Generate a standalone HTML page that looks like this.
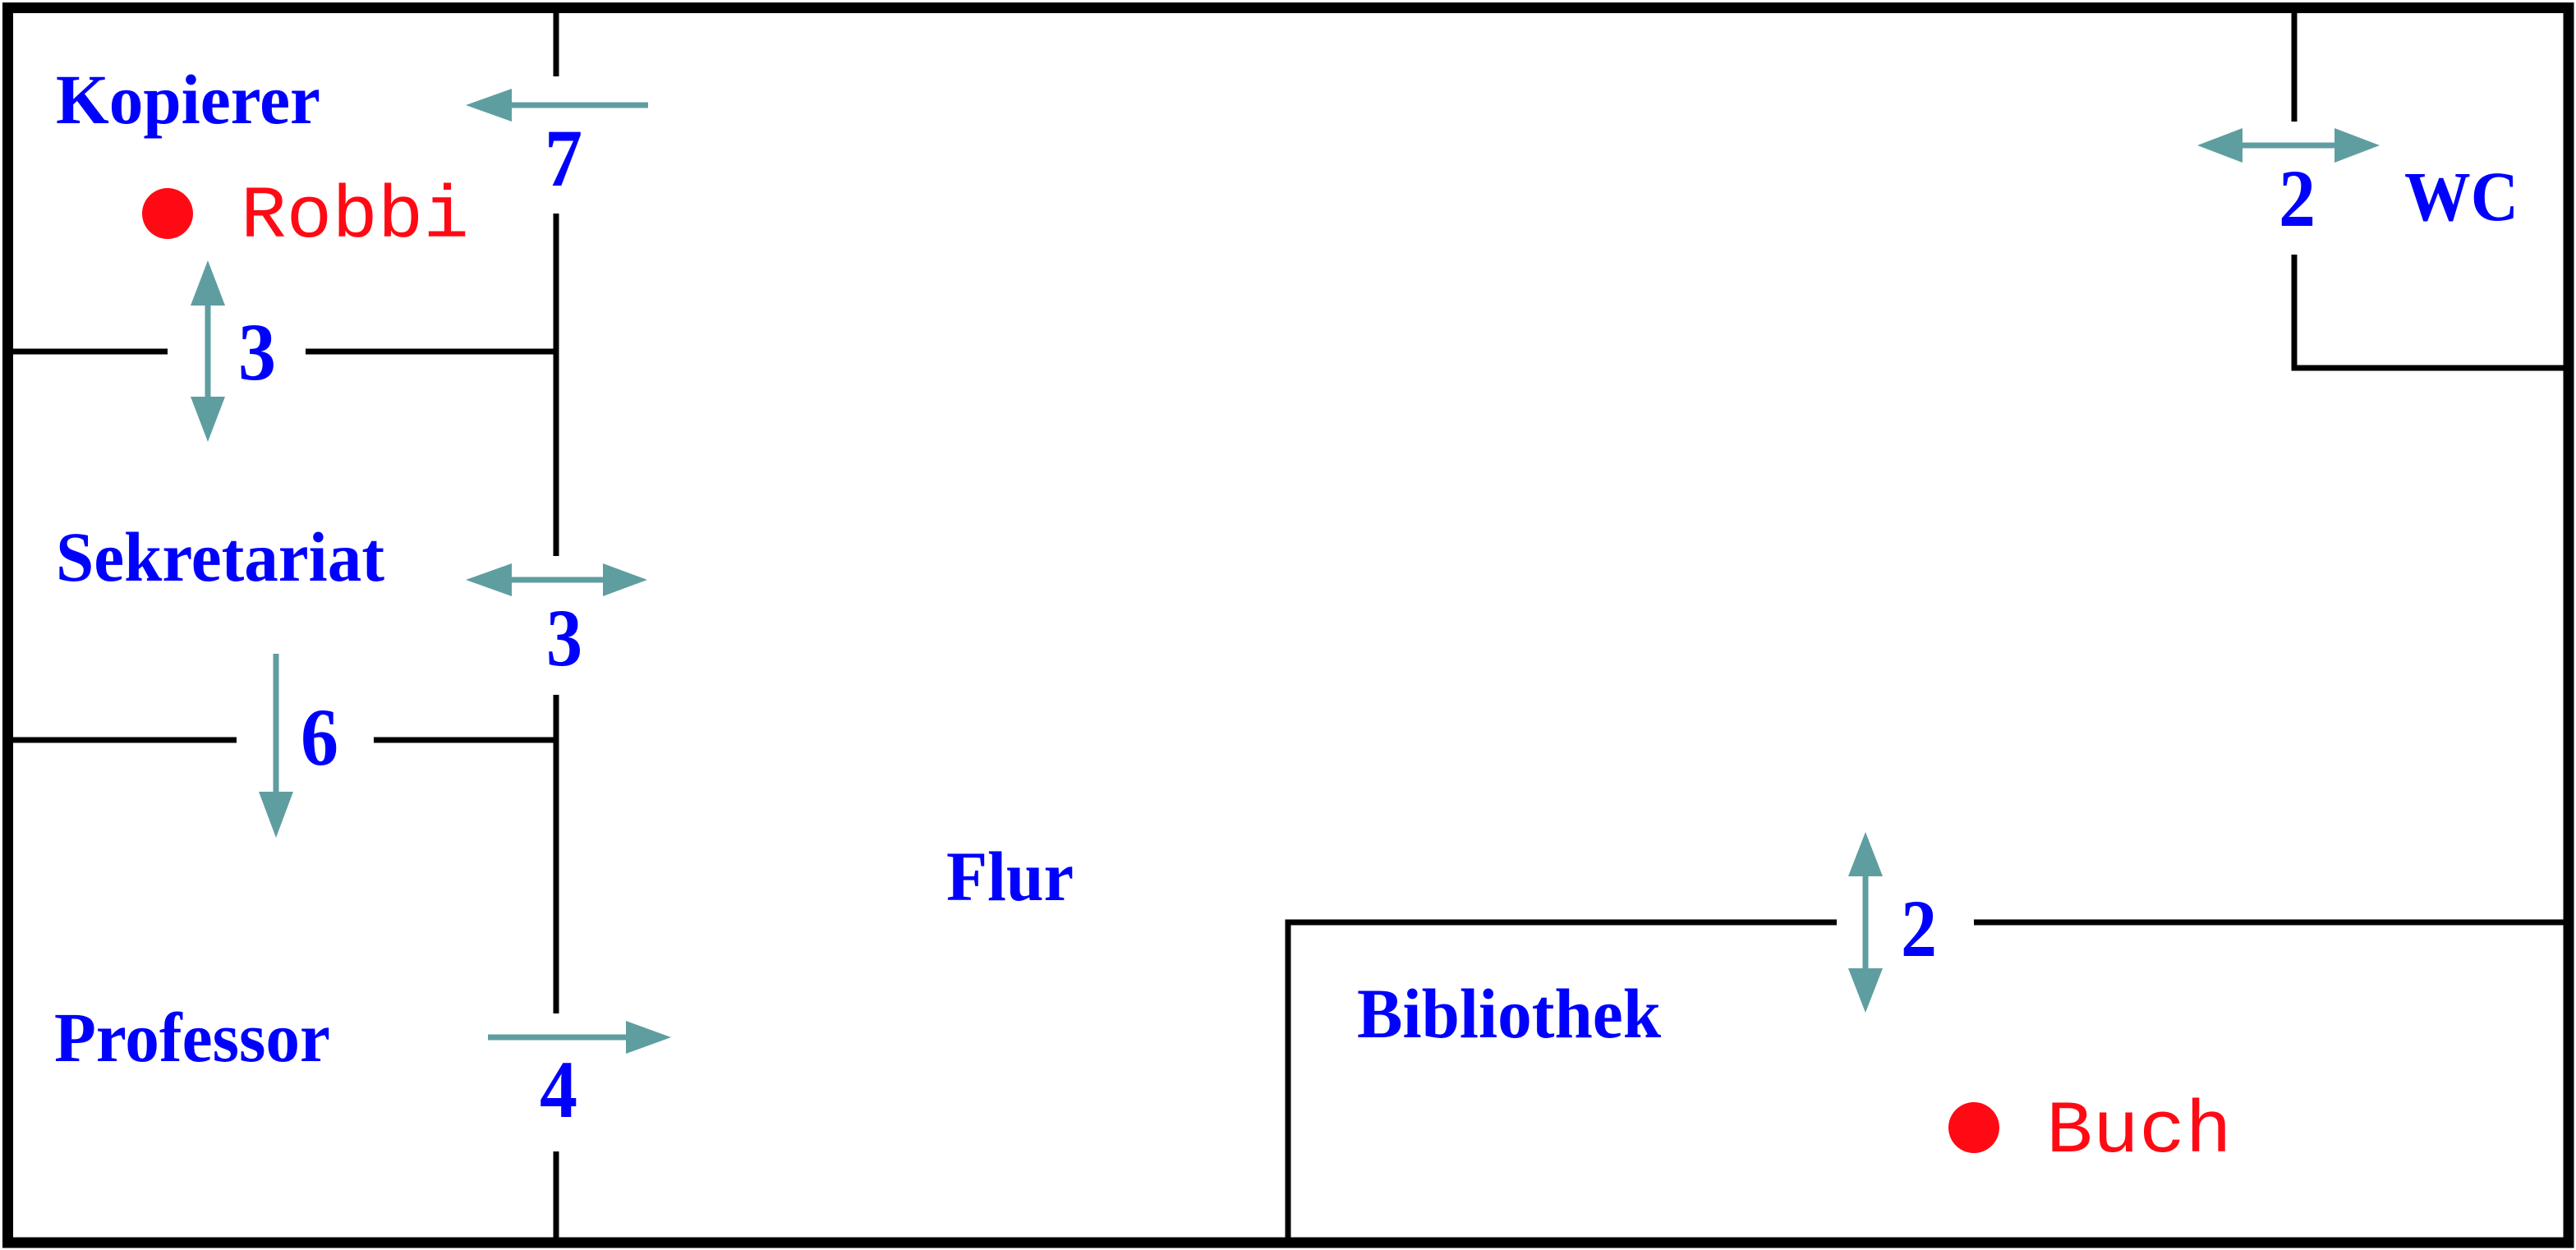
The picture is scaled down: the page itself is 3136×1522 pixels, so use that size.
<!DOCTYPE html>
<html><head><meta charset="utf-8"><style>
html,body{margin:0;padding:0;background:#fff;}
svg{display:block;}
.lbl{font-family:"Liberation Serif",serif;font-weight:bold;fill:#0000ff;}
.num{font-family:"Liberation Serif",serif;font-weight:bold;fill:#0000ff;font-size:100px;}
.red{font-family:"Liberation Mono",monospace;fill:#ff0a14;font-size:90px;}
</style></head><body>
<svg width="3136" height="1522" viewBox="0 0 3136 1522" xmlns="http://www.w3.org/2000/svg">
<rect x="0" y="0" width="3136" height="1522" fill="#fff"/>
<g stroke="#000" stroke-width="7" fill="none">
<line x1="677" y1="10" x2="677" y2="93"/>
<line x1="677" y1="260" x2="677" y2="677"/>
<line x1="677" y1="846" x2="677" y2="1234"/>
<line x1="677" y1="1402" x2="677" y2="1512"/>
<line x1="10" y1="428" x2="204" y2="428"/>
<line x1="372" y1="428" x2="677" y2="428"/>
<line x1="10" y1="901" x2="288" y2="901"/>
<line x1="455" y1="901" x2="677" y2="901"/>
<line x1="2793" y1="10" x2="2793" y2="148"/>
<polyline points="2793,310 2793,448 3127,448"/>
<polyline points="1568,1512 1568,1123 2236,1123"/>
<line x1="2403" y1="1123" x2="3127" y2="1123"/>
</g>
<rect x="9.5" y="9.5" width="3117.5" height="1503.5" fill="none" stroke="#000" stroke-width="13"/>
<g stroke="#5f9ea0" stroke-width="7" fill="none">
<line x1="789" y1="128" x2="620" y2="128"/>
<line x1="253" y1="370" x2="253" y2="485"/>
<line x1="620" y1="706" x2="737" y2="706"/>
<line x1="336" y1="796" x2="336" y2="966"/>
<line x1="594" y1="1263" x2="764" y2="1263"/>
<line x1="2730" y1="177" x2="2842" y2="177"/>
<line x1="2271" y1="1065" x2="2271" y2="1181"/>
</g>
<g fill="#5f9ea0">
<polygon points="567,128 623,108 623,148"/>
<polygon points="253,317 232,372 274,372"/>
<polygon points="253,538 232,483 274,483"/>
<polygon points="567,706 623,686 623,726"/>
<polygon points="788,706 734,686 734,726"/>
<polygon points="336,1020 315,964 357,964"/>
<polygon points="817,1263 762,1243 762,1283"/>
<polygon points="2675,177 2730,156 2730,198"/>
<polygon points="2897,177 2842,156 2842,198"/>
<polygon points="2271,1013 2250,1067 2292,1067"/>
<polygon points="2271,1233 2250,1179 2292,1179"/>
</g>
<circle cx="204" cy="260" r="31" fill="#ff0a14"/>
<circle cx="2403" cy="1373" r="31" fill="#ff0a14"/>
<text class="red" x="293" y="288" textLength="278" lengthAdjust="spacingAndGlyphs">Robbi</text>
<text class="red" x="2491" y="1402" textLength="226" lengthAdjust="spacingAndGlyphs">Buch</text>
<text class="lbl" x="68" y="150" font-size="86" textLength="322" lengthAdjust="spacingAndGlyphs">Kopierer</text>
<text class="lbl" x="68" y="707" font-size="86" textLength="400" lengthAdjust="spacingAndGlyphs">Sekretariat</text>
<text class="lbl" x="66" y="1292" font-size="86" textLength="336" lengthAdjust="spacingAndGlyphs">Professor</text>
<text class="lbl" x="1152" y="1096" font-size="86" textLength="155" lengthAdjust="spacingAndGlyphs">Flur</text>
<text class="lbl" x="1652" y="1263" font-size="86" textLength="370" lengthAdjust="spacingAndGlyphs">Bibliothek</text>
<text class="lbl" x="2927" y="268" font-size="86" textLength="139" lengthAdjust="spacingAndGlyphs">WC</text>
<text class="num" x="663" y="226" textLength="46" lengthAdjust="spacingAndGlyphs">7</text>
<text class="num" x="290" y="462" textLength="46" lengthAdjust="spacingAndGlyphs">3</text>
<text class="num" x="665" y="810" textLength="44" lengthAdjust="spacingAndGlyphs">3</text>
<text class="num" x="366" y="931" textLength="46" lengthAdjust="spacingAndGlyphs">6</text>
<text class="num" x="657" y="1360" textLength="46" lengthAdjust="spacingAndGlyphs">4</text>
<text class="num" x="2774" y="275" textLength="45" lengthAdjust="spacingAndGlyphs">2</text>
<text class="num" x="2314" y="1164" textLength="44" lengthAdjust="spacingAndGlyphs">2</text>
</svg>
</body></html>
